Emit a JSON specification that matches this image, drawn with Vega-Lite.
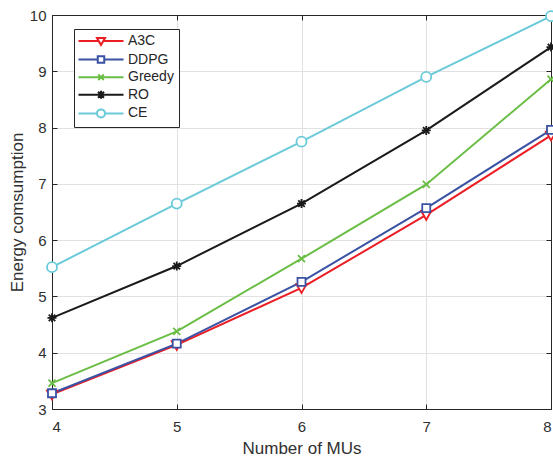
{
  "$schema": "https://vega.github.io/schema/vega-lite/v6.json",
  "width": 499,
  "height": 394,
  "autosize": {"type": "none"},
  "padding": {"left": 52, "top": 15, "right": 2, "bottom": 50},
  "background": "white",
  "config": {
    "font": "Liberation Sans",
    "view": {"stroke": null},
    "axis": {
      "domainColor": "#262626",
      "tickColor": "#262626",
      "gridColor": "#e1e1e1",
      "labelColor": "#303030",
      "titleColor": "#303030",
      "labelFontSize": 15,
      "titleFontSize": 17,
      "titleFontWeight": "normal",
      "tickSize": -5,
      "domainWidth": 1,
      "tickWidth": 1
    }
  },
  "data": {
    "values": [
      {"n": 4, "series": "A3C", "e": 3.26},
      {"n": 5, "series": "A3C", "e": 4.14},
      {"n": 6, "series": "A3C", "e": 5.15},
      {"n": 7, "series": "A3C", "e": 6.45},
      {"n": 8, "series": "A3C", "e": 7.86},
      {"n": 4, "series": "DDPG", "e": 3.28},
      {"n": 5, "series": "DDPG", "e": 4.16},
      {"n": 6, "series": "DDPG", "e": 5.26},
      {"n": 7, "series": "DDPG", "e": 6.57},
      {"n": 8, "series": "DDPG", "e": 7.96},
      {"n": 4, "series": "Greedy", "e": 3.46},
      {"n": 5, "series": "Greedy", "e": 4.38},
      {"n": 6, "series": "Greedy", "e": 5.67},
      {"n": 7, "series": "Greedy", "e": 6.99},
      {"n": 8, "series": "Greedy", "e": 8.86},
      {"n": 4, "series": "RO", "e": 4.62},
      {"n": 5, "series": "RO", "e": 5.54},
      {"n": 6, "series": "RO", "e": 6.65},
      {"n": 7, "series": "RO", "e": 7.95},
      {"n": 8, "series": "RO", "e": 9.43},
      {"n": 4, "series": "CE", "e": 5.52},
      {"n": 5, "series": "CE", "e": 6.65},
      {"n": 6, "series": "CE", "e": 7.75},
      {"n": 7, "series": "CE", "e": 8.90},
      {"n": 8, "series": "CE", "e": 9.98}
    ]
  },
  "resolve": {
    "scale": {"color": "independent", "shape": "independent"},
    "axis": {"x": "independent", "y": "independent"}
  },
  "layer": [
    {
      "mark": {"type": "line", "strokeWidth": 2},
      "encoding": {
        "x": {
          "field": "n", "type": "quantitative",
          "scale": {"domain": [4, 8], "nice": false, "zero": false},
          "axis": {
            "orient": "bottom", "title": "Number of MUs", "values": [4, 5, 6, 7, 8],
            "format": "d", "grid": true, "labelPadding": 15, "titlePadding": 6
          }
        },
        "y": {
          "field": "e", "type": "quantitative",
          "scale": {"domain": [3, 10], "nice": false, "zero": false},
          "axis": {
            "orient": "left", "title": "Energy comsumption", "values": [3, 4, 5, 6, 7, 8, 9, 10],
            "format": "d", "grid": true, "labelPadding": 11, "titlePadding": 3
          }
        },
        "color": {
          "field": "series", "type": "nominal",
          "scale": {
            "domain": ["A3C", "DDPG", "Greedy", "RO", "CE"],
            "range": ["#ec1d24", "#3a52a3", "#6abd45", "#1a1a1a", "#6bcad9"]
          },
          "legend": null
        }
      }
    },
    {
      "mark": {"type": "point", "filled": false, "fill": "white", "opacity": 1, "strokeWidth": 1.8, "size": 100},
      "encoding": {
        "x": {"field": "n", "type": "quantitative", "axis": null},
        "y": {"field": "e", "type": "quantitative", "axis": null},
        "color": {
          "field": "series", "type": "nominal",
          "scale": {
            "domain": ["A3C", "DDPG", "Greedy", "RO", "CE"],
            "range": ["#ec1d24", "#3a52a3", "#6abd45", "#1a1a1a", "#6bcad9"]
          },
          "legend": null
        },
        "shape": {
          "field": "series", "type": "nominal",
          "scale": {
            "domain": ["A3C", "DDPG", "Greedy", "RO", "CE"],
            "range": [
              "M-1,-0.75L1,-0.75L0,1Z",
              "M-0.8,-0.8L0.8,-0.8L0.8,0.8L-0.8,0.8Z",
              "M-0.7,-0.7L0.7,0.7M-0.7,0.7L0.7,-0.7",
              "M-0.9,0L0.9,0M0,-0.9L0,0.9M-0.65,-0.65L0.65,0.65M-0.65,0.65L0.65,-0.65",
              "M1,0A1,1,0,1,1,-1,0A1,1,0,1,1,1,0Z"
            ]
          },
          "legend": null
        }
      }
    },
    {
      "transform": [{"filter": "false"}],
      "mark": {"type": "point", "filled": false, "fill": "white", "opacity": 1, "strokeWidth": 2},
      "encoding": {
        "x": {
          "field": "n", "type": "quantitative",
          "axis": {"orient": "top", "title": null, "labels": false, "grid": false, "values": [4, 5, 6, 7, 8]}
        },
        "y": {
          "field": "e", "type": "quantitative",
          "axis": {"orient": "right", "title": null, "labels": false, "grid": false, "values": [3, 4, 5, 6, 7, 8, 9, 10]}
        },
        "color": {
          "field": "series", "type": "nominal",
          "scale": {
            "domain": ["A3C", "DDPG", "Greedy", "RO", "CE"],
            "range": ["#ec1d24", "#3a52a3", "#6abd45", "#1a1a1a", "#6bcad9"]
          },
          "legend": {
            "orient": "none", "legendX": 22, "legendY": 14, "title": null,
            "padding": 5, "rowPadding": 2.6, "strokeColor": "#262626", "fillColor": "white",
            "cornerRadius": 0, "symbolSize": 100, "symbolStrokeWidth": 2,
            "symbolOffset": 15, "labelOffset": 20, "symbolOpacity": 1,
            "symbolFillColor": "white",
            "labelFontSize": 14, "labelColor": "#262626", "labelFont": "Liberation Sans"
          }
        },
        "shape": {
          "field": "series", "type": "nominal",
          "scale": {
            "domain": ["A3C", "DDPG", "Greedy", "RO", "CE"],
            "range": [
              "M-4.5,0H-0.46M0.46,0H4.5M-0.8,-0.6L0.8,-0.6L0,0.8Z",
              "M-4.5,0H-0.65M0.65,0H4.5M-0.65,-0.65H0.65V0.65H-0.65Z",
              "M-4.5,0H4.5M-0.55,-0.55L0.55,0.55M-0.55,0.55L0.55,-0.55",
              "M-4.5,0H4.5M0,-0.8V0.8M-0.6,-0.6L0.6,0.6M-0.6,0.6L0.6,-0.6",
              "M-4.5,0H-0.8M0.8,0H4.5M0.8,0A0.8,0.8,0,1,1,-0.8,0A0.8,0.8,0,1,1,0.8,0Z"
            ]
          },
          "legend": {
            "orient": "none", "legendX": 22, "legendY": 14, "title": null,
            "padding": 5, "rowPadding": 2.6, "strokeColor": "#262626", "fillColor": "white",
            "cornerRadius": 0, "symbolSize": 100, "symbolStrokeWidth": 2,
            "symbolOffset": 15, "labelOffset": 20, "symbolOpacity": 1,
            "symbolFillColor": "white",
            "labelFontSize": 14, "labelColor": "#262626", "labelFont": "Liberation Sans"
          }
        }
      }
    }
  ]
}
